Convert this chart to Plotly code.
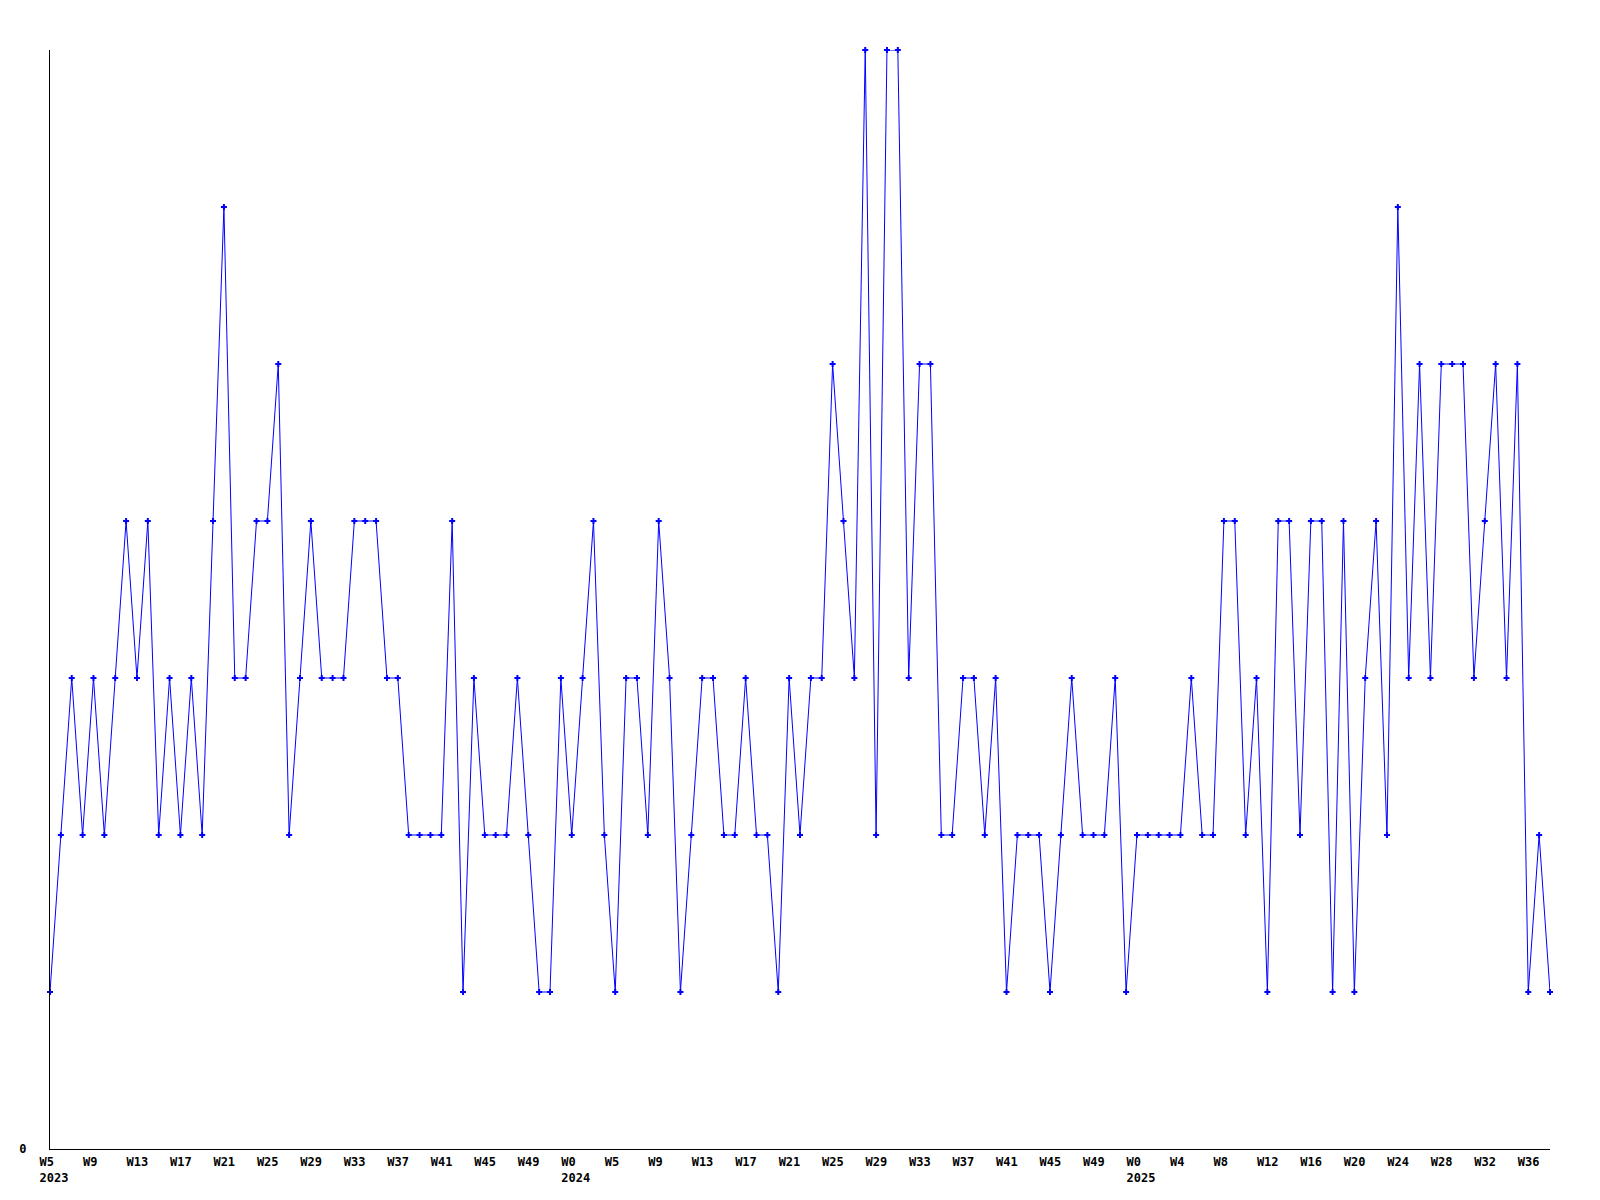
import plotly.graph_objects as go

# Weekly counts, 2023 W5 .. 2025 W38 (one value per week)
values = [1, 2, 3, 2, 3, 2, 3, 4, 3, 4,
          2, 3, 2, 3, 2, 4, 6, 3, 3, 4,
          4, 5, 2, 3, 4, 3, 3, 3, 4, 4,
          4, 3, 3, 2, 2, 2, 2, 4, 1, 3,
          2, 2, 2, 3, 2, 1, 1, 3, 2, 3,
          4, 2, 1, 3, 3, 2, 4, 3, 1, 2,
          3, 3, 2, 2, 3, 2, 2, 1, 3, 2,
          3, 3, 5, 4, 3, 7, 2, 7, 7, 3,
          5, 5, 2, 2, 3, 3, 2, 3, 1, 2,
          2, 2, 1, 2, 3, 2, 2, 2, 3, 1,
          2, 2, 2, 2, 2, 3, 2, 2, 4, 4,
          2, 3, 1, 4, 4, 2, 4, 4, 1, 4,
          1, 3, 4, 2, 6, 3, 5, 3, 5, 5,
          5, 3, 4, 5, 3, 5, 1, 2, 1]

# Tick labels, one every 4 weeks
week_labels = ["W5", "W9", "W13", "W17", "W21", "W25", "W29", "W33", "W37", "W41", "W45", "W49",
               "W0", "W5", "W9", "W13", "W17", "W21", "W25", "W29", "W33", "W37", "W41", "W45", "W49",
               "W0", "W4", "W8", "W12", "W16", "W20", "W24", "W28", "W32", "W36"]
tick_step = 4
year_labels = ["2023", "2024", "2025"]
year_tick_index = [0, 12, 25]  # index into week_labels where a new year starts

x = list(range(len(values)))
tickvals = [i * tick_step for i in range(len(week_labels))]
ticktext = list(week_labels)
for yl, ti in zip(year_labels, year_tick_index):
    ticktext[ti] = ticktext[ti] + "<br>" + yl

font = dict(family="DejaVu Sans Mono", size=12, color="black", weight="bold")

fig = go.Figure()
fig.add_trace(go.Scatter(
    x=x, y=values, mode="lines+markers",
    line=dict(color="#0000ff", width=1),
    marker=dict(symbol="cross", size=5, color="#0000ff", line=dict(width=0)),
    cliponaxis=False, showlegend=False,
))

# page body has an 8px default margin, so margins are offset by 8px
fig.update_layout(
    width=1600, height=1200,
    margin=dict(l=42, r=58, t=42, b=59, autoexpand=False),
    paper_bgcolor="white", plot_bgcolor="white",
)
fig.update_xaxes(
    range=[0, len(values) - 1], tickvals=tickvals, ticktext=ticktext,
    showgrid=False, zeroline=False, showline=True, linecolor="black", linewidth=1,
    ticks="", tickfont=font, ticklabelstandoff=2,
    ticklabelposition="outside right", ticklabelshift=-11,
)
fig.update_yaxes(
    range=[0, 7], tickvals=[0], ticktext=["0"],
    showgrid=False, zeroline=False, showline=True, linecolor="black", linewidth=1,
    ticks="", tickfont=font, ticklabelstandoff=20,
)

fig.write_html("out.html")
